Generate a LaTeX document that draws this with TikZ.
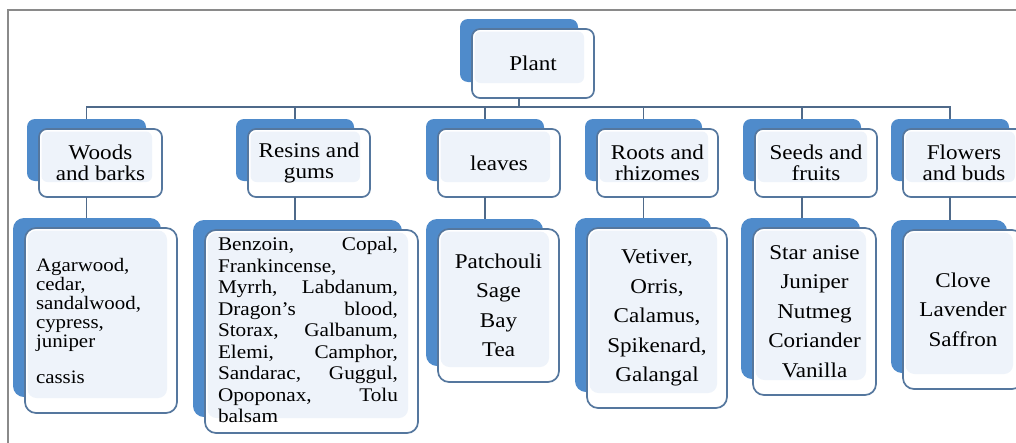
\documentclass[tikz,border=0pt]{standalone}
\usepackage{fontspec}
\setmainfont{Liberation Serif}[FakeStretch=1.1]
\usetikzlibrary{calc}
\definecolor{shadowblue}{HTML}{4F8BCB}
\definecolor{edgeblue}{HTML}{55779E}
\definecolor{innerfill}{HTML}{EEF3FA}
\definecolor{connblue}{HTML}{4F6A8A}
\definecolor{framegray}{HTML}{8A8A8A}
\tikzset{
  shadowbox/.style={fill=shadowblue, draw=none, inner sep=0pt, outer sep=0pt},
  frontbox/.style={fill=white, draw=edgeblue, line width=1.7pt, inner sep=0pt, outer sep=0pt},
  conn/.style={draw=connblue, line width=1.7pt},
  lvltwo/.style={font=\fontsize{21}{21}\selectfont, align=center, inner sep=0pt, text=black},
  lvlthree/.style={font=\fontsize{21}{29.5}\selectfont, align=center, inner sep=0pt, text=black},
  dense/.style={font=\fontsize{19.3}{21.5}\selectfont, align=left, inner sep=0pt, text=black},
}
% #1 name, #2 x1, #3 y1, #4 x2, #5 y2 (front box), #6 corner radius
\newcommand\layerbox[6]{%
  \node[shadowbox, rounded corners=#6, minimum width={#4-#2-4}, minimum height={#5-#3-6}]
    (#1-s) at ({(#2+#4)/2-14},{(#3+#5)/2-13}) {};
  \node[frontbox, rounded corners=#6, minimum width={#4-#2}, minimum height={#5-#3}]
    (#1) at ({(#2+#4)/2},{(#3+#5)/2}) {};
  \fill[innerfill, rounded corners={#6-2}] ({#2+2.5},{#3+2.5}) rectangle ({#4-10},{#5-15});
}
\begin{document}
\begin{tikzpicture}[x=1pt, y=-1pt]
\useasboundingbox (0,0) rectangle (1016,442);
\fill[white] (0,0) rectangle (1016,442);
\clip (0,0) rectangle (1016,442);
\draw[framegray, line width=1.6pt] (8,470) -- (8,10) -- (1040,10);

% root
\layerbox{plant}{472}{29}{594}{98}{8}
\node[lvltwo] (plant-t) at (plant) {Plant};

% level 2
\layerbox{woods}{39}{129}{162}{197}{8}
\layerbox{resins}{248}{129}{370}{197}{8}
\layerbox{leaves}{438}{129}{560}{197}{8}
\layerbox{roots}{597}{129}{718}{197}{8}
\layerbox{seeds}{755}{129}{877}{197}{8}
\layerbox{flowers}{903}{129}{1025}{197}{8}
\node[lvltwo] (woods-t) at (woods) {Woods\\and barks};
\node[lvltwo] (resins-t) at (resins) {Resins and\\gums};
\node[lvltwo] (leaves-t) at (leaves) {leaves};
\node[lvltwo] (roots-t) at (roots) {Roots and\\rhizomes};
\node[lvltwo] (seeds-t) at (seeds) {Seeds and\\fruits};
\node[lvltwo] (flowers-t) at (flowers) {Flowers\\and buds};

% level 3
\layerbox{woodsL}{25}{228}{177}{413}{11}
\layerbox{resinsL}{205}{230}{418}{433}{11}
\layerbox{leavesL}{438}{229}{559}{382}{11}
\layerbox{rootsL}{587}{228}{727}{408}{11}
\layerbox{seedsL}{753}{228}{876}{395}{11}
\layerbox{flowersL}{903}{230}{1023}{389}{11}

\node[dense, text width=130pt, font=\fontsize{19}{19}\selectfont] (woodsL-t) at (101,321)
  {Agarwood,\\cedar,\\sandalwood,\\cypress,\\juniper\\[17pt]cassis};
\node[dense, text width=180pt] (resinsL-t) at (308,330)
  {Benzoin,\hfill Copal,\\Frankincense,\\Myrrh,\hfill Labdanum,\\Dragon's\hfill blood,\\Storax,\hfill Galbanum,\\Elemi,\hfill Camphor,\\Sandarac,\hfill Guggul,\\Opoponax,\hfill Tolu\\balsam};
\node[lvlthree] (leavesL-t) at (leavesL) {Patchouli\\Sage\\Bay\\Tea};
\node[lvlthree] (rootsL-t) at (rootsL) {Vetiver,\\Orris,\\Calamus,\\Spikenard,\\Galangal};
\node[lvlthree] (seedsL-t) at (seedsL) {Star anise\\Juniper\\Nutmeg\\Coriander\\Vanilla};
\node[lvlthree] (flowersL-t) at (flowersL) {Clove\\Lavender\\Saffron};

% connectors
\coordinate (bus) at (0,107);
\foreach \c in {woods,resins,leaves,roots,seeds,flowers}{
  \draw[conn] (plant.south -| plant-s) |- (bus -| \c-s) -- (\c-s.north);
  \draw[conn] (\c.south -| \c-s) -- (\c L-s.north -| \c-s);
}
\end{tikzpicture}
\end{document}
